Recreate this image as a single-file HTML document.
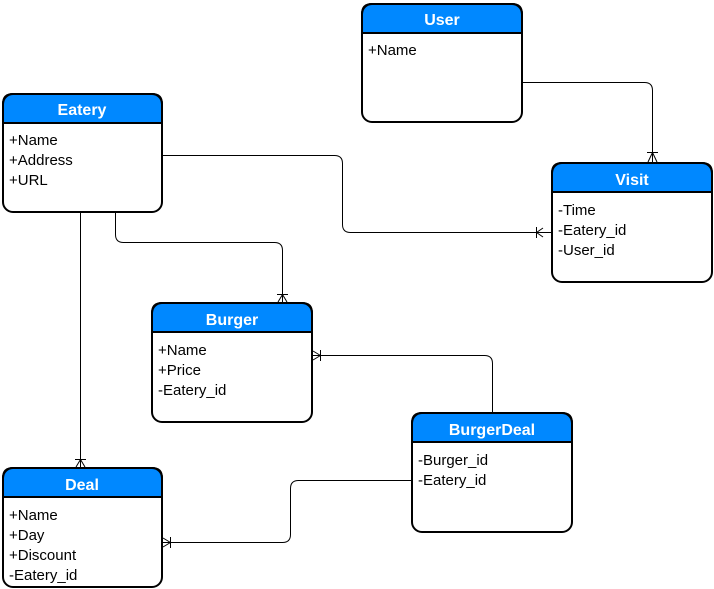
<!DOCTYPE html>
<html><head><style>
html,body{margin:0;padding:0;background:#fff;}
svg{display:block;}
text{font-family:"Liberation Sans",Arial,sans-serif;}
.h{fill:#fff;font-weight:bold;font-size:16px;}
.t{fill:#000;font-size:15px;}
</style></head><body>
<svg width="714" height="589" viewBox="0 0 714 589" xmlns="http://www.w3.org/2000/svg">
<g fill="none" stroke="#000" stroke-width="1">
<path d="M522.5 82.5 H644.5 Q652.5 82.5 652.5 90.5 V162"/>
<path d="M647 152.5 H658 M652.5 152.5 L648 162 M652.5 152.5 L657 162"/>
<path d="M162.5 155.5 H334.5 Q342.5 155.5 342.5 163.5 V224.5 Q342.5 232.5 350.5 232.5 H552"/>
<path d="M536.5 227 V238 M536.5 232.5 L543 228 M536.5 232.5 L543 237"/>
<path d="M115.5 212 V234.5 Q115.5 242.5 123.5 242.5 H274.5 Q282.5 242.5 282.5 250.5 V302"/>
<path d="M277 294.5 H288 M282.5 294.5 L278 302 M282.5 294.5 L287 302"/>
<path d="M80.5 212 V467"/>
<path d="M75 459.5 H86 M80.5 459.5 L76 467 M80.5 459.5 L85 467"/>
<path d="M492.5 412 V363.5 Q492.5 355.5 484.5 355.5 H312"/>
<path d="M320.5 350 V361 M320.5 355.5 L313 351 M320.5 355.5 L313 360"/>
<path d="M412 480.5 H298.5 Q290.5 480.5 290.5 488.5 V534.5 Q290.5 542.5 282.5 542.5 H162"/>
<path d="M170.5 537 V548 M170.5 542.5 L163 538 M170.5 542.5 L163 547"/>
</g>
<g stroke="#000" stroke-width="2">
<path d="M362 33 V14 Q362 4 372 4 H512 Q522 4 522 14 V33 Z" fill="#0088ff"/>
<rect x="362" y="4" width="160" height="118" rx="10" fill="none"/>
<path d="M3 123 V104 Q3 94 13 94 H152 Q162 94 162 104 V123 Z" fill="#0088ff"/>
<rect x="3" y="94" width="159" height="118" rx="10" fill="none"/>
<path d="M552 192 V173 Q552 163 562 163 H702 Q712 163 712 173 V192 Z" fill="#0088ff"/>
<rect x="552" y="163" width="160" height="119" rx="10" fill="none"/>
<path d="M152 332 V313 Q152 303 162 303 H302 Q312 303 312 313 V332 Z" fill="#0088ff"/>
<rect x="152" y="303" width="160" height="119" rx="10" fill="none"/>
<path d="M412 442 V423 Q412 413 422 413 H562 Q572 413 572 423 V442 Z" fill="#0088ff"/>
<rect x="412" y="413" width="160" height="119" rx="10" fill="none"/>
<path d="M3 497 V478 Q3 468 13 468 H152 Q162 468 162 478 V497 Z" fill="#0088ff"/>
<rect x="3" y="468" width="159" height="119" rx="10" fill="none"/>
</g>

<text class="h" x="442" y="25" text-anchor="middle">User</text>
<text class="t" x="368" y="55">+Name</text>

<text class="h" x="82" y="115" text-anchor="middle">Eatery</text>
<text class="t" x="9" y="145">+Name</text>
<text class="t" x="9" y="165">+Address</text>
<text class="t" x="9" y="185">+URL</text>

<text class="h" x="632" y="185" text-anchor="middle">Visit</text>
<text class="t" x="558" y="215">-Time</text>
<text class="t" x="558" y="235">-Eatery_id</text>
<text class="t" x="558" y="255">-User_id</text>

<text class="h" x="232" y="325" text-anchor="middle">Burger</text>
<text class="t" x="158" y="355">+Name</text>
<text class="t" x="158" y="375">+Price</text>
<text class="t" x="158" y="395">-Eatery_id</text>

<text class="h" x="492" y="435" text-anchor="middle">BurgerDeal</text>
<text class="t" x="418" y="465">-Burger_id</text>
<text class="t" x="418" y="485">-Eatery_id</text>

<text class="h" x="82" y="490" text-anchor="middle">Deal</text>
<text class="t" x="9" y="520">+Name</text>
<text class="t" x="9" y="540">+Day</text>
<text class="t" x="9" y="560">+Discount</text>
<text class="t" x="9" y="580">-Eatery_id</text>
</svg>
</body></html>
